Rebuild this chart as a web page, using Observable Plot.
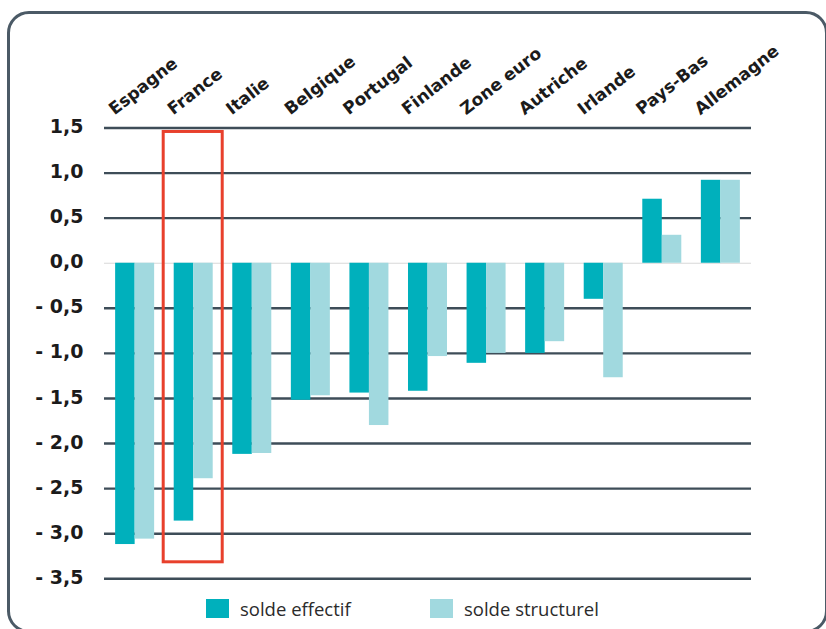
<!DOCTYPE html>
<html>
<head>
<meta charset="utf-8">
<script src="https://cdn.jsdelivr.net/npm/d3@7"></script>
<script src="https://cdn.jsdelivr.net/npm/@observablehq/plot@0.6"></script>
<style>
  html, body { margin: 0; padding: 0; background: #fff; }
  #wrap { position: relative; width: 826px; height: 629px; overflow: hidden; }
  #frame { position: absolute; left: 7px; top: 11px; width: 821px; height: 622px; box-sizing: border-box;
           border: 3.5px solid #4b5a66; border-radius: 22px; }
  #chart { position: absolute; left: 0; top: 0; }
  #legend { position: absolute; left: 0; top: 0; width: 826px; height: 629px; pointer-events: none;
            font-family: "Open Sans", sans-serif; font-size: 18.5px; color: #2b2b2b; }
  .item { position: absolute; top: 596px; display: flex; align-items: center; height: 24px; }
  .sw { width: 23px; height: 19px; margin-right: 11px; }
</style>
</head>
<body>
<div id="wrap">
  <div id="frame"></div>
  <div id="chart"></div>
  <div id="legend"></div>
</div>
<script>
const countries = ["Espagne","France","Italie","Belgique","Portugal","Finlande","Zone euro","Autriche","Irlande","Pays-Bas","Allemagne"];
const effectif   = [-3.12, -2.86, -2.12, -1.52, -1.44, -1.42, -1.11, -1.00, -0.40, 0.71, 0.92];
const structurel = [-3.06, -2.39, -2.11, -1.47, -1.80, -1.035, -1.00, -0.87, -1.27, 0.31, 0.92];
const series = ["solde effectif", "solde structurel"];
const colors = ["#00b0bc", "#a1d9df"];
const yTicks = [1.5, 1, 0.5, 0, -0.5, -1, -1.5, -2, -2.5, -3, -3.5];
const highlightCountry = ["France"];
const highlightRange = [1.456, -3.317];

const rows = countries.flatMap((c, i) => [
  {country: c, series: series[0], value: effectif[i]},
  {country: c, series: series[1], value: structurel[i]}
]);
const highlight = highlightCountry.map(c => ({country: c, top: highlightRange[0], bottom: highlightRange[1]}));

const fmt = d => {
  const s = Math.abs(d).toFixed(1).replace(".", ",");
  return d < 0 ? "- " + s : s;
};

const plot = Plot.plot({
  width: 826,
  height: 629,
  marginLeft: 104,
  marginRight: 75,
  marginTop: 127.5,
  marginBottom: 50.7,
  x: {domain: countries, paddingInner: 0.334, paddingOuter: 0.19, round: false, axis: null},
  y: {domain: [-3.5, 1.5], axis: null},
  color: {domain: series, range: colors},
  style: {background: "transparent"},
  marks: [
    Plot.ruleY(yTicks.filter(d => d !== 0), {stroke: "#3e4d58", strokeWidth: 2.4}),
    Plot.ruleY([0], {stroke: "#d8d8d8", strokeWidth: 1.2}),
    Plot.barY(rows.filter(d => d.series === series[0]), {x: "country", y: "value", fill: "series", insetRight: 19.5}),
    Plot.barY(rows.filter(d => d.series === series[1]), {x: "country", y: "value", fill: "series", insetLeft: 19.5}),
    Plot.barY(highlight, {x: "country", y1: "top", y2: "bottom", fill: "none", stroke: "#e8402c", strokeWidth: 3, insetLeft: -10.5, insetRight: -9.5}),
    Plot.text(yTicks, {y: d => d, text: fmt, frameAnchor: "left", textAnchor: "end", dx: -21, dy: -1,
      fontFamily: "DejaVu Sans", fontWeight: "bold", fontSize: 19, fill: "#1b1b1b"}),
    Plot.text(countries, {x: d => d, text: d => d, frameAnchor: "top", textAnchor: "start", rotate: -38,
      dx: -28, dy: -22, fontFamily: "DejaVu Sans", fontWeight: "bold", fontSize: 17, fill: "#1b1b1b"})
  ]
});
document.getElementById("chart").appendChild(plot);

const legend = document.getElementById("legend");
const lefts = [206, 430];
series.forEach((s, i) => {
  const item = document.createElement("div");
  item.className = "item";
  item.style.left = lefts[i] + "px";
  const sw = document.createElement("div");
  sw.className = "sw";
  sw.style.background = colors[i];
  const t = document.createElement("span");
  t.textContent = s;
  item.appendChild(sw);
  item.appendChild(t);
  legend.appendChild(item);
});
</script>
</body>
</html>
